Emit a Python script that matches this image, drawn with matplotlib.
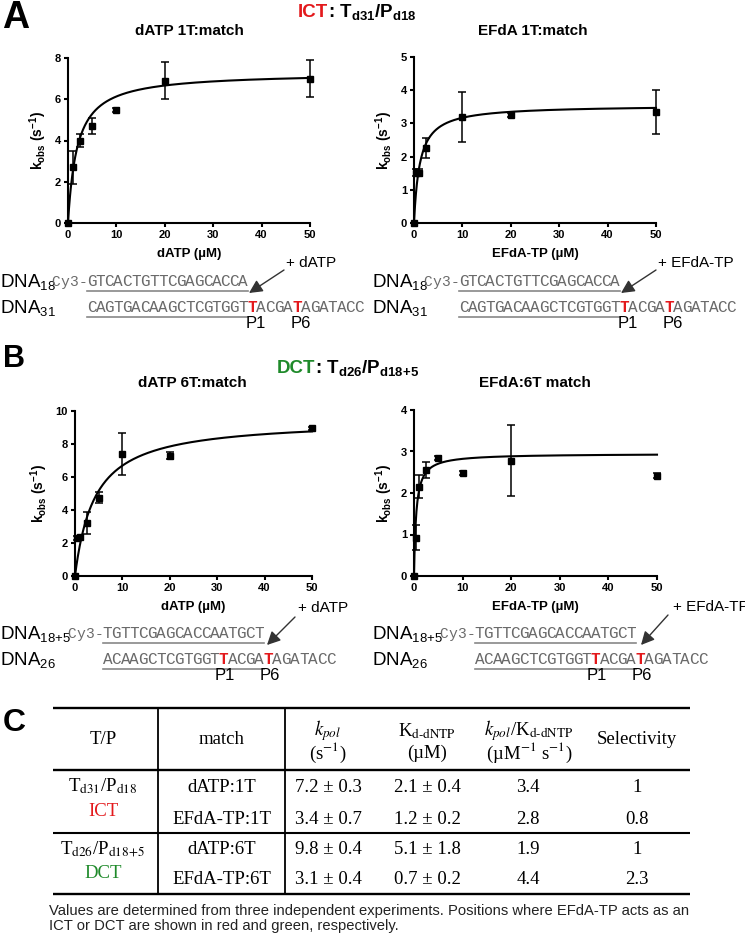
import numpy as np
import matplotlib
matplotlib.use('Agg')
import matplotlib.pyplot as plt

plt.rcParams['font.family'] = ['Liberation Sans', 'DejaVu Sans']
plt.rcParams['mathtext.fontset'] = 'custom'
plt.rcParams['mathtext.rm'] = 'Liberation Sans'
plt.rcParams['mathtext.it'] = 'Liberation Sans:italic'
plt.rcParams['mathtext.bf'] = 'Liberation Sans:bold'

# kinetics data
titles = ['dATP 1T:match', 'EFdA 1T:match', 'dATP 6T:match', 'EFdA:6T match']
xlabels = ['dATP (µM)', 'EFdA-TP (µM)', 'dATP (µM)', 'EFdA-TP (µM)']

conc_a1 = [0, 1, 2.5, 5, 10, 20, 50]
kobs_a1 = [0, 2.7, 4.0, 4.7, 5.5, 6.9, 7.0]
err_a1 = [0, 0.8, 0.3, 0.4, 0.1, 0.9, 0.9]

conc_a2 = [0, 0.5, 1, 2.5, 10, 20, 50]
kobs_a2 = [0, 1.52, 1.52, 2.25, 3.2, 3.25, 3.35]
err_a2 = [0, 0.1, 0.1, 0.3, 0.75, 0.05, 0.67]

conc_b1 = [0, 0.5, 1, 2.5, 5, 10, 20, 50]
kobs_b1 = [0, 2.3, 2.35, 3.2, 4.75, 7.4, 7.3, 8.95]
err_b1 = [0, 0.1, 0.1, 0.65, 0.35, 1.27, 0.2, 0.1]

conc_b2 = [0, 0.5, 1, 2.5, 5, 10, 20, 50]
kobs_b2 = [0, 0.92, 2.15, 2.55, 2.85, 2.48, 2.78, 2.42]
err_b2 = [0, 0.3, 0.28, 0.2, 0.05, 0.05, 0.85, 0.05]

# hyperbolic fits as drawn (Vmax, K)
fit_vmax = [7.3, 3.55, 9.5, 2.95]
fit_km = [1.9, 1.2, 4.2, 0.45]
y_max = [8, 5, 10, 4]
y_step = [2, 1, 2, 1]

# DNA substrates
primer_a = 'GTCACTGTTCGAGCACCA'
template_a = 'CAGTGACAAGCTCGTGGTTACGATAGATACC'
red_a = [18, 23]
primer_b = 'TGTTCGAGCACCAATGCT'
template_b = 'ACAAGCTCGTGGTTACGATAGATACC'
red_b = [13, 18]
nucleotides = ['+ dATP', '+ EFdA-TP']

# table C
tp_labels = [r'T$_{\mathrm{d31}}$/P$_{\mathrm{d18}}$', r'T$_{\mathrm{d26}}$/P$_{\mathrm{d18\!+\!5}}$']
site_labels = ['ICT', 'DCT']
match_labels = ['dATP:1T', 'EFdA-TP:1T', 'dATP:6T', 'EFdA-TP:6T']
kpol_mean = [7.2, 3.4, 9.8, 3.1]
kpol_sd = [0.3, 0.7, 0.4, 0.4]
kd_mean = [2.1, 1.2, 5.1, 0.7]
kd_sd = [0.4, 0.2, 1.8, 0.2]
efficiency = [3.4, 2.8, 1.9, 4.4]
selectivity = ['1', '0.8', '1', '2.3']

RED = '#e3191c'
GREEN = '#1f8a2a'
GRAY = '#6a6a6a'
W, H = 745, 936

fig = plt.figure(figsize=(W / 100, H / 100), dpi=100)


def px_axes(x0, y0, x1, y1):
    return fig.add_axes([x0 / W, 1 - y1 / H, (x1 - x0) / W, (y1 - y0) / H])


boxes = [(68, 58, 310, 223), (414, 57, 656, 223), (75, 411, 312, 576), (414, 410, 657, 576)]
series = [(conc_a1, kobs_a1, err_a1), (conc_a2, kobs_a2, err_a2),
          (conc_b1, kobs_b1, err_b1), (conc_b2, kobs_b2, err_b2)]

for i, box in enumerate(boxes):
    ax = px_axes(*box)
    x, y, e = series[i]
    xs = np.linspace(0, 50, 500)
    ax.plot(xs, fit_vmax[i] * xs / (fit_km[i] + xs), color='k', lw=1.5, clip_on=False)
    ax.errorbar(x, y, yerr=e, fmt='s', color='k', ms=4.5, capsize=3,
                elinewidth=1.1, capthick=1.1, clip_on=False)
    ax.set_xlim(0, 50)
    ax.set_ylim(0, y_max[i])
    ax.set_xticks(range(0, 51, 10))
    ax.set_yticks(np.arange(0, y_max[i] + 0.1, y_step[i]))
    for s in ['top', 'right']:
        ax.spines[s].set_visible(False)
    for s in ['left', 'bottom']:
        ax.spines[s].set_linewidth(1.5)
    ax.tick_params(direction='out', length=3, width=1.5, labelsize=8, pad=2)
    for lab in ax.get_xticklabels() + ax.get_yticklabels():
        lab.set_fontweight('bold')
    ax.set_xlabel(xlabels[i], fontsize=9.5, fontweight='bold', labelpad=6)
    ax.set_ylabel(r'k$_{\mathbf{obs}}$ (s$^{\mathbf{-1}}$)', fontsize=10, fontweight='bold', labelpad=4)

# overlay in pixel coordinates for labels, sequences and the table
ov = fig.add_axes([0, 0, 1, 1])
ov.set_xlim(0, W)
ov.set_ylim(H, 0)
ov.axis('off')

ov.text(2, 28, 'A', fontsize=27, fontweight='bold', va='baseline')
ov.text(3, 367, 'B', fontsize=22, fontweight='bold', va='baseline')
ov.text(3, 731, 'C', fontsize=23, fontweight='bold', va='baseline')

ov.text(328, 17, 'ICT', color=RED, fontsize=13.5, fontweight='bold', ha='right', va='baseline')
ov.text(328, 17, r': T$_{\mathbf{d31}}$/P$_{\mathbf{d18}}$', fontsize=13.5, fontweight='bold',
        ha='left', va='baseline')
ov.text(315, 373, 'DCT', color=GREEN, fontsize=13.5, fontweight='bold', ha='right', va='baseline')
ov.text(315, 373, r': T$_{\mathbf{d26}}$/P$_{\mathbf{d18\!+\!5}}$', fontsize=13.5, fontweight='bold',
        ha='left', va='baseline')

title_pos = [(189, 31), (533, 31), (192, 383), (535, 383)]
for t, (tx, ty) in zip(titles, title_pos):
    ov.text(tx, ty, t, fontsize=11, fontweight='bold', ha='center', va='center')

CW = 8.93


def draw_seq(x0, y, seq, red=(), size=11.5):
    for j, ch in enumerate(seq):
        hot = j in red
        ov.text(x0 + (j + 0.5) * CW, y, ch, ha='center', va='baseline',
                family='Liberation Mono', fontsize=size,
                color=RED if hot else GRAY, fontweight='bold' if hot else 'normal')


def draw_dna(dx, top, primer, template, red, plab, tlab, x0, nuc, arrow_from, arrow_to, nuc_xy, p_shift):
    yp, yt = top, top + 26
    ov.text(dx, yp + 1, plab, fontsize=13.5, va='baseline')
    ov.text(dx, yt + 1, tlab, fontsize=13.5, va='baseline')
    draw_seq(dx + x0 - 4 * CW, yp, 'Cy3-', size=10.5)
    draw_seq(dx + x0, yp, primer)
    draw_seq(dx + x0, yt, template, red)
    ov.plot([dx + x0, dx + x0 + len(primer) * CW], [yp + 4.5, yp + 4.5], color='#888888', lw=1.2)
    ov.plot([dx + x0, dx + x0 + len(primer) * CW], [yt + 4.5, yt + 4.5], color='#888888', lw=1.2)
    for k, j in enumerate(red):
        ov.text(dx + x0 + j * CW + p_shift, yt + 16, 'P%d' % (1 if k == 0 else 6), fontsize=12,
                va='baseline')
    ov.annotate('', xy=(dx + arrow_to[0], arrow_to[1]), xytext=(dx + arrow_from[0], arrow_from[1]),
                arrowprops=dict(arrowstyle='-|>', color='#333333', lw=1.0, mutation_scale=20,
                                shrinkA=0, shrinkB=0))
    ov.text(dx + nuc_xy[0], nuc_xy[1], nuc, fontsize=11, va='baseline')


for n, dx in enumerate([0, 372]):
    draw_dna(dx, 286, primer_a, template_a, red_a, r'DNA$_{18}$', r'DNA$_{31}$', 87,
             nucleotides[n], (284, 270), (249, 293), (286, 267), -2)
draw_dna(0, 638, primer_b, template_b, red_b, r'DNA$_{18\!+\!5}$', r'DNA$_{26}$', 103,
         nucleotides[0], (295, 617), (267, 645), (298, 612), -4)
draw_dna(372, 638, primer_b, template_b, red_b, r'DNA$_{18\!+\!5}$', r'DNA$_{26}$', 103,
         nucleotides[1], (296, 615), (269, 645), (301, 611), -4)

# table
TL, TR = 53, 690
for yy in [708, 770, 894]:
    ov.plot([TL, TR], [yy, yy], color='k', lw=1.7, solid_capstyle='butt')
ov.plot([TL, TR], [833, 833], color='k', lw=1.5, solid_capstyle='butt')
for xx in [158, 285]:
    ov.plot([xx, xx], [708, 894], color='k', lw=1.3)

serif = dict(family='Liberation Serif', math_fontfamily='stix', fontsize=13.5, ha='center', va='center')
ov.text(103, 740, 'T/P', **serif)
ov.text(222, 740, 'match', **serif)
ov.text(328, 731, r'$k_{pol}$', **serif)
ov.text(328, 753, r'(s$^{\mathrm{-1}}$)', **serif)
ov.text(427, 731, 'K$_{\\mathrm{d\u2010dNTP}}$', **serif)
ov.text(427, 753, '(µM)', **serif)
ov.text(529, 731, '$k_{pol}$/K$_{\\mathrm{d\u2010dNTP}}$', **serif)
ov.text(529, 753, r'(µM$^{-1}$ s$^{-1}$)', **serif)
ov.text(637, 740, 'Selectivity', **serif)

row_y = [787, 819, 850, 880]
for g in range(2):
    ov.text(103, row_y[2 * g] - 1, tp_labels[g], **serif)
    ov.text(103, row_y[2 * g] + 24, site_labels[g], color=[RED, GREEN][g], **serif)
for r in range(4):
    yy = row_y[r]
    ov.text(222, yy, match_labels[r], **serif)
    ov.text(328, yy, '%.1f ± %.1f' % (kpol_mean[r], kpol_sd[r]), **serif)
    ov.text(427, yy, '%.1f ± %.1f' % (kd_mean[r], kd_sd[r]), **serif)
    ov.text(528, yy, '%.1f' % efficiency[r], **serif)
    ov.text(637, yy, selectivity[r], **serif)

ov.text(49, 915, 'Values are determined from three independent experiments. Positions where EFdA-TP acts as an',
        fontsize=10.6, va='baseline', color='#222222')
ov.text(49, 930, 'ICT or DCT are shown in red and green, respectively.',
        fontsize=10.6, va='baseline', color='#222222')

fig.savefig('out.png', dpi=100)
